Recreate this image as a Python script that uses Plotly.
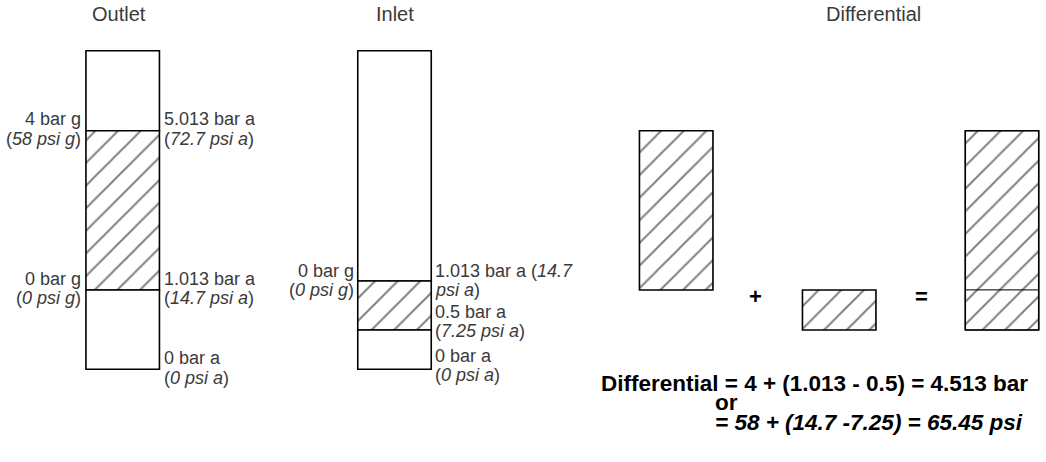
import plotly.graph_objects as go

# ---------------- data ----------------
panel_titles = ["Outlet", "Inlet", "Differential"]

# pressure levels shown on each column (bar a)
outlet_levels_bar_a = [0.0, 1.013, 5.013]
inlet_levels_bar_a = [0.0, 0.5, 1.013]

outlet_left_labels = ["4 bar g", "(<i>58 psi g</i>)", "0 bar g", "(<i>0 psi g</i>)"]
outlet_right_labels = ["5.013 bar a", "(<i>72.7 psi a</i>)",
                       "1.013 bar a", "(<i>14.7 psi a</i>)",
                       "0 bar a", "(<i>0 psi a</i>)"]
inlet_left_labels = ["0 bar g", "(<i>0 psi g</i>)"]
inlet_right_labels = ["1.013 bar a (<i>14.7</i>", "<i>psi a</i>)",
                      "0.5 bar a", "(<i>7.25 psi a</i>)",
                      "0 bar a", "(<i>0 psi a</i>)"]
operators = ["+", "="]
formula_lines = ["<b>Differential = 4 + (1.013 - 0.5) = 4.513 bar</b>",
                 "<b>or</b>",
                 "<b><i>= 58 + (14.7 -7.25) = 65.45 psi</i></b>"]

# ---------------- layout geometry (schematic, px from top of window) ----------------
W, H = 1046, 462
BOX_W = 73.5
outlet_cx, inlet_cx = 122.7, 394.5
diff_cx = [676.2, 839.2, 1002.0]
title_cx = [119, 395, 873]
col_top = 50.7
outlet_level_px = [369.3, 290.0, 130.7]     # rows for outlet_levels_bar_a
inlet_level_px = [369.3, 330.0, 281.0]      # rows for inlet_levels_bar_a


def up(py):
    return H - py


label_rows_outlet_left = [119, 139, 279, 298]
label_rows_outlet_right = [119, 139, 279, 298, 358, 378]
label_rows_inlet_left = [271, 290]
label_rows_inlet_right = [271, 290, 312, 331, 356, 375]

TXT = "#3a3a3a"
FONT = "Liberation Sans"
LBL = 18
BORDER = 1.6

fig = go.Figure()

hatch = dict(shape="/", fgcolor="black", bgcolor="white", size=16, solidity=0.12)


def add_bar(cx, top_px, bot_px, hatched, lw=BORDER):
    fig.add_trace(go.Bar(
        x=[cx], y=[up(top_px) - up(bot_px)], base=[up(bot_px)], width=[BOX_W],
        marker=dict(color="white", line=dict(color="black", width=lw),
                    pattern=hatch if hatched else dict(shape="")),
        hoverinfo="skip", showlegend=False))


# Outlet column
add_bar(outlet_cx, col_top, outlet_level_px[2], False)
add_bar(outlet_cx, outlet_level_px[2], outlet_level_px[1], True)
add_bar(outlet_cx, outlet_level_px[1], outlet_level_px[0], False)
# Inlet column
add_bar(inlet_cx, col_top, inlet_level_px[2], False)
add_bar(inlet_cx, inlet_level_px[2], inlet_level_px[1], True)
add_bar(inlet_cx, inlet_level_px[1], inlet_level_px[0], False)
# Differential
add_bar(diff_cx[0], outlet_level_px[2], outlet_level_px[1], True)
add_bar(diff_cx[1], outlet_level_px[1], inlet_level_px[1], True)
add_bar(diff_cx[2], outlet_level_px[2], outlet_level_px[1], True, lw=0.8)
add_bar(diff_cx[2], outlet_level_px[1], inlet_level_px[1], True, lw=0.8)

shapes = [dict(type="rect", xref="x", yref="y",
               x0=diff_cx[2] - BOX_W / 2, x1=diff_cx[2] + BOX_W / 2,
               y0=up(inlet_level_px[1]), y1=up(outlet_level_px[2]),
               line=dict(color="black", width=BORDER), fillcolor="rgba(0,0,0,0)")]

ann = []
# titles
for t, cx in zip(panel_titles, title_cx):
    ann.append(dict(x=cx, y=up(14), text=t, showarrow=False, xanchor="center", yanchor="middle",
                    font=dict(family=FONT, size=20, color=TXT)))


def add_labels(texts, rows, x, anchor):
    for t, r in zip(texts, rows):
        ann.append(dict(x=x, y=up(r), text=t, showarrow=False, xanchor=anchor, yanchor="middle",
                        font=dict(family=FONT, size=LBL, color=TXT)))


add_labels(outlet_left_labels, label_rows_outlet_left, outlet_cx - BOX_W / 2 - 3, "right")
add_labels(outlet_right_labels, label_rows_outlet_right, outlet_cx + BOX_W / 2 + 3, "left")
add_labels(inlet_left_labels, label_rows_inlet_left, inlet_cx - BOX_W / 2 - 2, "right")
add_labels(inlet_right_labels, label_rows_inlet_right, inlet_cx + BOX_W / 2 + 2, "left")

for op, x in zip(operators, [755, 921]):
    ann.append(dict(x=x, y=up(296), text="<b>" + op + "</b>", showarrow=False,
                    xanchor="center", yanchor="middle",
                    font=dict(family=FONT, size=22, color="black")))

for t, (x, r) in zip(formula_lines, [(599, 383), (713, 402), (713, 422)]):
    ann.append(dict(x=x, y=up(r), text=t, showarrow=False, xanchor="left", yanchor="middle",
                    font=dict(family=FONT, size=22.5, color="black")))

fig.update_layout(
    width=W, height=H, margin=dict(l=0, r=0, t=0, b=0),
    paper_bgcolor="white", plot_bgcolor="white",
    barmode="overlay", showlegend=False,
    xaxis=dict(range=[0, W], visible=False, fixedrange=True),
    yaxis=dict(range=[0, H], visible=False, fixedrange=True),
    shapes=shapes, annotations=ann,
)

fig.write_html("out.html", config={"displayModeBar": False},
               post_script="document.body.style.margin='0';document.body.style.overflow='hidden';")
